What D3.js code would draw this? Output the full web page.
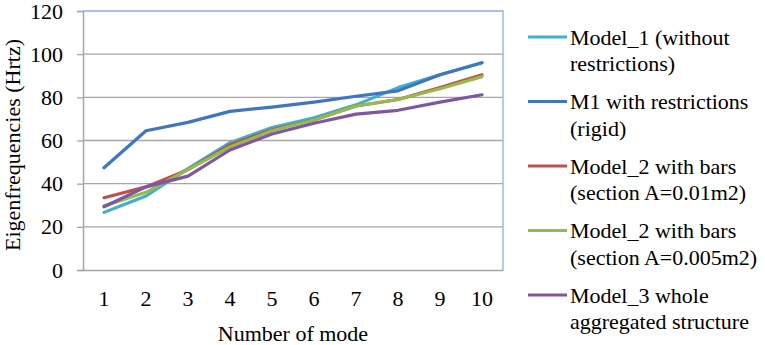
<!DOCTYPE html>
<html>
<head>
<meta charset="utf-8">
<script src="https://cdn.jsdelivr.net/npm/d3@7"></script>
<style>
  body { margin: 0; background: #fff; }
  svg text { font-family: "Liberation Serif", "Times New Roman", serif; fill: #000; }
</style>
</head>
<body>
<div id="chart"></div>
<script>
// data
var modes = [1, 2, 3, 4, 5, 6, 7, 8, 9, 10];
var model1 = [26.7, 34.3, 47, 59, 66, 70.5, 76.5, 84.5, 90.5, 96];
var m1Rigid = [47.4, 64.5, 68.4, 73.5, 75.5, 77.8, 80.5, 83, 90.5, 96];
var model2a = [33.5, 38.5, 46.5, 58, 65, 69.5, 76, 79, 84.5, 90.4];
var model2b = [29.7, 36, 46.5, 57, 64.5, 69.5, 76, 79, 84, 89.6];
var model3 = [29.3, 38.5, 43.5, 55.6, 63, 68, 72.2, 74, 77.8, 81.2];
var yTicks = [0, 20, 40, 60, 80, 100, 120];

var seriesNames = [
  ["Model_1 (without", "restrictions)"],
  ["M1 with restrictions", "(rigid)"],
  ["Model_2 with bars", "(section A=0.01m2)"],
  ["Model_2 with bars", "(section A=0.005m2)"],
  ["Model_3 whole", "aggregated structure"]
];
var seriesValues = [model1, m1Rigid, model2a, model2b, model3];
var seriesColors = ["#3fb0cf", "#3f76c1", "#c0504d", "#94bc4a", "#7f56a6"];

var width = 765, height = 345;
var plotL = 83, plotR = 503, plotT = 11, plotB = 270;
var serif = "'Liberation Serif', 'Times New Roman', serif";

var svg = d3.select("#chart").append("svg")
    .attr("width", width)
    .attr("height", height)
    .style("font-family", serif);

var x = d3.scaleBand().domain(modes).range([plotL, plotR]);
var y = d3.scaleLinear().domain([0, 120]).range([plotB, plotT]);

// gridlines
svg.append("g")
    .selectAll("line").data(yTicks.filter(function(d) { return d > 0 && d < 120; })).enter()
    .append("line")
    .attr("x1", plotL).attr("x2", plotR)
    .attr("y1", function(d) { return y(d); })
    .attr("y2", function(d) { return y(d); })
    .attr("stroke", "#a6a6a6")
    .attr("stroke-width", 1.3);

// plot border top + right
svg.append("path")
    .attr("d", "M" + plotL + "," + plotT + "H" + plotR + "V" + plotB)
    .attr("fill", "none")
    .attr("stroke", "#8fb0da")
    .attr("stroke-width", 1.3);

// y axis
var yAxis = svg.append("g")
    .attr("transform", "translate(" + plotL + ",0)")
    .call(d3.axisLeft(y).tickValues(yTicks).tickSize(6).tickPadding(14));
yAxis.attr("font-family", serif).attr("font-size", 22);
yAxis.select(".domain").attr("stroke", "#a6a6a6").attr("stroke-width", 1.5);
yAxis.selectAll(".tick line").attr("stroke", "#a6a6a6").attr("stroke-width", 1.3);
yAxis.selectAll(".tick text").attr("fill", "#000");

// x axis
var xAxis = svg.append("g")
    .attr("transform", "translate(0," + plotB + ")")
    .call(d3.axisBottom(x).tickSize(0).tickPadding(20));
xAxis.attr("font-family", serif).attr("font-size", 22);
xAxis.select(".domain").attr("stroke", "#a6a6a6").attr("stroke-width", 1.5);
xAxis.selectAll(".tick text").attr("fill", "#000");

// lines
var line = d3.line()
    .x(function(d, i) { return x(modes[i]) + x.bandwidth() / 2; })
    .y(function(d) { return y(d); });

svg.append("g")
    .selectAll("path").data(seriesValues).enter()
    .append("path")
    .attr("d", line)
    .attr("fill", "none")
    .attr("stroke", function(d, i) { return seriesColors[i]; })
    .attr("stroke-width", 3.2)
    .attr("stroke-linejoin", "round")
    .attr("stroke-linecap", "round");

// axis titles
svg.append("text")
    .attr("x", 293).attr("y", 341)
    .attr("text-anchor", "middle")
    .attr("font-size", 22)
    .text("Number of mode");

svg.append("text")
    .attr("transform", "translate(20,145) rotate(-90)")
    .attr("text-anchor", "middle")
    .attr("font-size", 22)
    .text("Eigenfrequencies (Hrtz)");

// legend
var legend = svg.append("g")
    .selectAll("g").data(seriesNames).enter()
    .append("g")
    .attr("transform", function(d, i) { return "translate(528," + (37 + i * 64.5) + ")"; });

legend.append("line")
    .attr("x1", 0).attr("x2", 39)
    .attr("stroke", function(d, i) { return seriesColors[i]; })
    .attr("stroke-width", 3);

legend.append("text")
    .attr("x", 42).attr("y", 7.5)
    .attr("font-size", 22)
    .text(function(d) { return d[0]; });

legend.append("text")
    .attr("x", 42).attr("y", 34)
    .attr("font-size", 22)
    .text(function(d) { return d[1]; });
</script>
</body>
</html>
